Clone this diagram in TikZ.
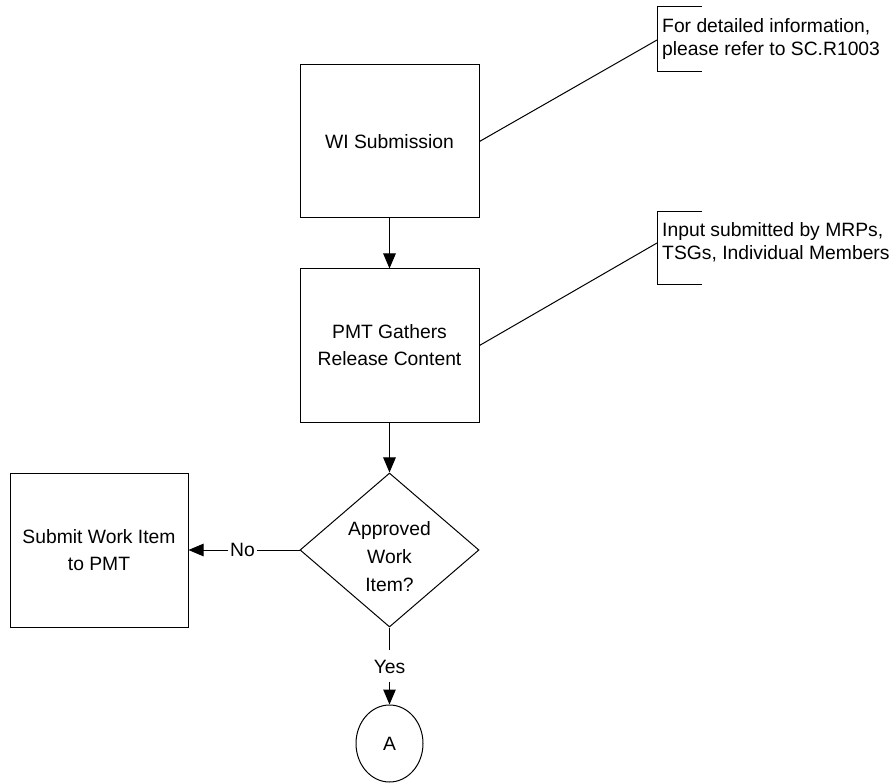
\documentclass[tikz,border=0pt]{standalone}
\usepackage{fontspec}
\setmainfont{Liberation Sans}
\usetikzlibrary{shapes.geometric,arrows.meta}
\begin{document}
\begin{tikzpicture}[x=1pt,y=-1pt,
  every node/.style={font=\fontsize{19.3}{27}\selectfont},
  box/.style={draw, line width=1pt, minimum width=179pt, minimum height=153pt, align=center, inner sep=0pt},
  decision/.style={draw, diamond, line width=1pt, minimum width=179pt, minimum height=154pt, inner sep=0pt},
  terminal/.style={draw, ellipse, line width=1pt, minimum width=67pt, minimum height=77pt, inner sep=0pt},
  note/.style={anchor=west, align=left, inner sep=0pt, font=\fontsize{19.3}{23}\selectfont},
  dectext/.style={align=center, inner sep=0pt, font=\fontsize{19.3}{28}\selectfont},
  lbl/.style={inner xsep=1.5pt, inner ysep=0pt},
  conn/.style={line width=1pt},
  arr/.style={line width=1pt, -{Triangle[length=15pt,width=12.5pt]}},
  bracket/.style={line width=1pt},
]
\fill[white] (0,0) rectangle (894,783);
\useasboundingbox (0,0) rectangle (894,783);

\node[box] (wi) at (389.5,141.5) {WI Submission};
\node[box] (pmt) at (389.5,345.5) {PMT Gathers\\Release Content};
\node[decision] (dec) at (389.5,550) {};
\node[dectext] (dect) at (389.5,557) {Approved\\Work\\Item?};
\node[box, minimum width=178pt, minimum height=154pt] (sub) at (99,550) {Submit Work Item\\to PMT};
\node[terminal] (A) at (389.5,743.5) {A};
\node[lbl] (no) at (242.5,550) {No};
\node[lbl, inner ysep=8.5pt, text height=14pt, text depth=0pt] (yes) at (389.5,666) {Yes};

% annotations
\node[note] (n1) at (662,39.5) {For detailed information,\\please refer to SC.R1003};
\coordinate (b1) at (657,40);
\draw[bracket] (702,7) -- (657,7) -- (657,72) -- (702,72);

\node[note] (n2) at (662,242) {Input submitted by MRPs,\\TSGs, Individual Members};
\coordinate (b2) at (657,243);
\draw[bracket] (702,212) -- (657,212) -- (657,285) -- (702,285);

% connectors
\draw[conn] (wi.east) -- (b1);
\draw[conn] (pmt.east) -- (b2);
\draw[arr] (wi) -- (pmt);
\draw[arr] (pmt) -- (dec);
\draw[conn] (dec.west) -- (no.east);
\draw[arr] (no.west) -- (sub.east);
\draw[conn] (dec.south) -- (yes.north);
\draw[arr] (yes.south) -- (A.north);
\end{tikzpicture}
\end{document}
